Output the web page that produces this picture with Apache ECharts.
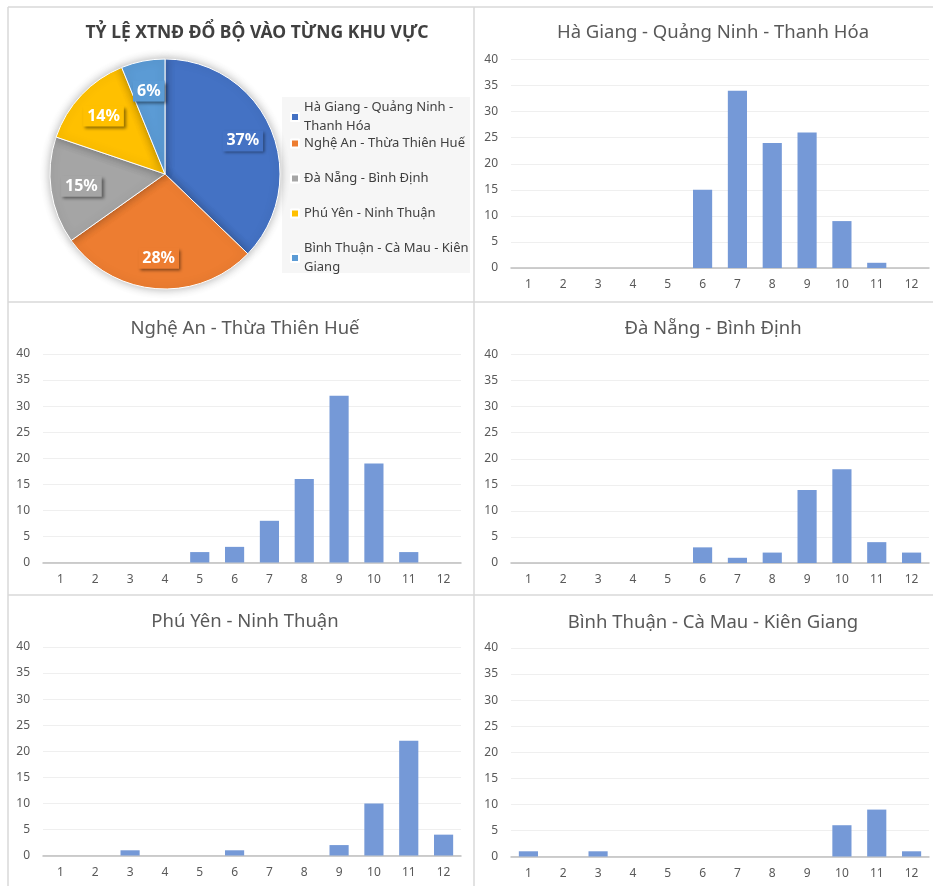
<!DOCTYPE html>
<html>
<head>
	<meta charset="utf-8">
	<script src="https://cdn.jsdelivr.net/npm/echarts@6/dist/echarts.min.js"></script>
	<style>
		html,body{margin:0;padding:0;background:#fff;}
	</style>
</head>
<body>
	<div id="main" style="width:933px;height:886px;"></div>
</body>
<script type="text/javascript">
// so con bao theo thang
var months = ['1','2','3','4','5','6','7','8','9','10','11','12'];
var regionNames = ['Hà Giang - Quảng Ninh - Thanh Hóa','Nghệ An - Thừa Thiên Huế','Đà Nẵng - Bình Định','Phú Yên - Ninh Thuận','Bình Thuận - Cà Mau - Kiên Giang'];
var legendLabels = ['Hà Giang - Quảng Ninh -\nThanh Hóa','Nghệ An - Thừa Thiên Huế','Đà Nẵng - Bình Định','Phú Yên - Ninh Thuận','Bình Thuận - Cà Mau - Kiên\nGiang'];
var haGiang  = [0,0,0,0,0,15,34,24,26,9,1,0];
var ngheAn   = [0,0,0,0,2,3,8,16,32,19,2,0];
var daNang   = [0,0,0,0,0,3,1,2,14,18,4,2];
var phuYen   = [0,0,1,0,0,1,0,0,2,10,22,4];
var binhThuan= [1,0,1,0,0,0,0,0,0,6,9,1];
var yTicks = [0,40,5];
var pieTitle = 'TỶ LỆ XTNĐ ĐỔ BỘ VÀO TỪNG KHU VỰC';

var pieColors = ['#4472c4','#ed7d31','#a5a5a5','#ffc000','#5b9bd5'];
var font = '"Noto Sans", "DejaVu Sans", sans-serif';

function sum(a){ var s=0; for(var i=0;i<a.length;i++) s+=a[i]; return s; }

var allSeries = [haGiang, ngheAn, daNang, phuYen, binhThuan];
var pieData = [];
for(var i=0;i<regionNames.length;i++){
	pieData.push({name: regionNames[i], value: sum(allSeries[i]), itemStyle:{color: pieColors[i]}});
}
var labelData = pieData.map(function(d, i){
	return {name: d.name, value: d.value, itemStyle:{color:'rgba(0,0,0,0)'},
		label:{backgroundColor: pieColors[i]}};
});

// vi tri cac o bieu do cot
var panels = [
	{data: haGiang,  left: 511, top: 59.5, titleX: 708, titleY: 18},
	{data: ngheAn,   left: 43,  top: 354,  titleX: 240, titleY: 314},
	{data: daNang,   left: 511, top: 354.5,titleX: 708, titleY: 314},
	{data: phuYen,   left: 43,  top: 647,  titleX: 240, titleY: 607},
	{data: binhThuan,left: 511, top: 648,  titleX: 708, titleY: 608}
];

var titles = [{
	text: pieTitle,
	left: 252, top: 19, textAlign: 'center',
	textStyle: {fontFamily: font, fontSize: 17.5, fontWeight: 'bold', color: '#404040'}
}];
var grids = [], xAxes = [], yAxes = [], series = [];
panels.forEach(function(p, i){
	titles.push({
		text: regionNames[i], left: p.titleX, top: p.titleY, textAlign: 'center',
		textStyle: {fontFamily: font, fontSize: 18.5, fontWeight: 'normal', color: '#595959'}
	});
	grids.push({left: p.left, top: p.top, width: 418, height: 208.5});
	xAxes.push({
		type: 'category', gridIndex: i, data: months,
		axisTick: {show: false},
		axisLine: {lineStyle: {color: '#bfbfbf', width: 1.5}},
		axisLabel: {color: '#595959', fontSize: 12, fontFamily: font, margin: 11}
	});
	yAxes.push({
		type: 'value', gridIndex: i, min: yTicks[0], max: yTicks[1], interval: yTicks[2],
		axisLine: {show: false}, axisTick: {show: false},
		axisLabel: {color: '#595959', fontSize: 12, fontFamily: font, margin: 13},
		splitLine: {lineStyle: {color: '#efefef', width: 1}}
	});
	series.push({
		type: 'bar', xAxisIndex: i, yAxisIndex: i, data: p.data,
		barWidth: '55%', animation: false,
		itemStyle: {color: '#7599d7'}
	});
});

series.push({
	name: 'pie', type: 'pie', center: [165, 174], radius: 115,
	data: pieData, animation: false, silent: true,
	label: {show: false}, labelLine: {show: false},
	itemStyle: {borderColor: '#fff', borderWidth: 1, shadowBlur: 10, shadowColor: 'rgba(0,0,0,0.3)'}
});
series.push({
	name: 'pielabels', type: 'pie', center: [165, 174], radius: [48, 115],
	data: labelData, animation: false, silent: true,
	labelLine: {show: false},
	label: {
		show: true, position: 'inside', color: '#fff', fontWeight: 'bold', fontSize: 16,
		fontFamily: font, padding: [3, 4, 2, 4],
		shadowColor: 'rgba(0,0,0,0.45)', shadowBlur: 3, shadowOffsetX: 2, shadowOffsetY: 2,
		formatter: function(p){ return Math.round(p.percent) + '%'; }
	}
});

var legendTops = [93, 129, 164, 199, 234];
var legends = regionNames.map(function(n, i){
	return {
		data: [n], left: 285, top: legendTops[i], orient: 'vertical',
		icon: 'rect', itemWidth: 8, itemHeight: 8, itemGap: 4, selectedMode: false,
		formatter: function(){ return legendLabels[i]; },
		textStyle: {fontFamily: font, fontSize: 13, color: '#404040', lineHeight: 19}
	};
});

var lineStyle = {stroke: '#d9d9d9', lineWidth: 1.5};
var graphics = [
	{type: 'rect', shape: {x: 282, y: 97, width: 188, height: 176}, style: {fill: '#f6f6f6'}, z: -1},
	{type: 'line', shape: {x1: 8, y1: 7, x2: 933, y2: 7}, style: lineStyle},
	{type: 'line', shape: {x1: 8, y1: 302, x2: 933, y2: 302}, style: lineStyle},
	{type: 'line', shape: {x1: 8, y1: 595, x2: 933, y2: 595}, style: lineStyle},
	{type: 'line', shape: {x1: 8, y1: 7, x2: 8, y2: 886}, style: lineStyle},
	{type: 'line', shape: {x1: 474, y1: 7, x2: 474, y2: 886}, style: lineStyle}
];

var option = {
	backgroundColor: '#fff',
	animation: false,
	title: titles,
	legend: legends,
	grid: grids,
	xAxis: xAxes,
	yAxis: yAxes,
	series: series,
	graphic: graphics
};
var myChart = echarts.init(document.getElementById('main'));
myChart.setOption(option);
</script>
</html>
